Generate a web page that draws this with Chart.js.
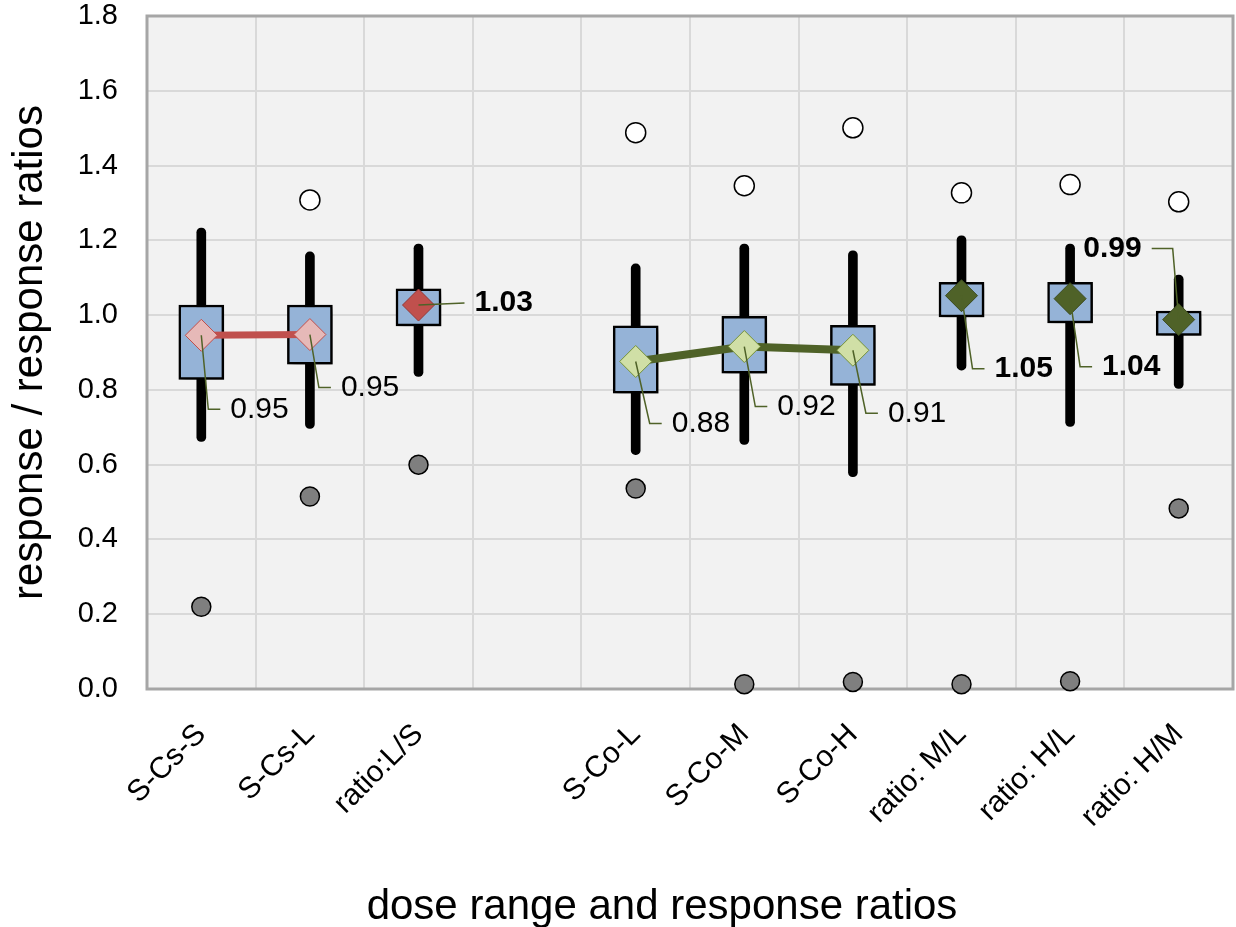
<!DOCTYPE html>
<html>
<head>
<meta charset="utf-8">
<title>dose range and response ratios</title>
<script src="https://cdn.jsdelivr.net/npm/chart.js@4.4.1/dist/chart.umd.min.js"></script>
<style>
    html, body { margin: 0; padding: 0; background: #ffffff; overflow: hidden; }
    #wrap { position: relative; width: 1236px; height: 927px; }
</style>
</head>
<body>
<div id="wrap"><canvas id="boxChart"></canvas></div>
<script>
const categories = ["S-Cs-S", "S-Cs-L", "ratio:L/S", "", "S-Co-L", "S-Co-M", "S-Co-H", "ratio: M/L", "ratio: H/L", "ratio: H/M"];
const whiskerLow = [0.662, 0.697, 0.836, null, 0.627, 0.654, 0.568, 0.853, 0.702, 0.804];
const whiskerHigh = [1.233, 1.169, 1.190, null, 1.137, 1.190, 1.172, 1.212, 1.190, 1.107];
const boxLow = [0.828, 0.869, 0.971, null, 0.791, 0.845, 0.812, 0.995, 0.979, 0.946];
const boxHigh = [1.027, 1.027, 1.070, null, 0.971, 0.997, 0.973, 1.088, 1.088, 1.011];
const means = [0.946, 0.948, 1.027, null, 0.876, 0.916, 0.906, 1.052, 1.044, 0.988];
const outlierHigh = [null, 1.308, null, null, 1.488, 1.346, 1.501, 1.327, 1.349, 1.303];
const outlierLow = [0.220, 0.515, 0.600, null, 0.536, 0.013, 0.019, 0.013, 0.021, 0.483];
const yMin = 0, yMax = 1.8, yStep = 0.2;
const xTitle = "dose range and response ratios";
const yTitle = "response / response ratios";

// which means belong to which group (lines join the single responses, ratios stand alone)
const csResponses = [0, 1], csRatios = [2], coResponses = [4, 5, 6], coRatios = [7, 8, 9];
function pick(values, idx) { return values.map(function(v, i) { return idx.indexOf(i) >= 0 ? v : null; }); }
function pairs(lo, hi) { return lo.map(function(v, i) { return v === null ? null : [v, hi[i]]; }); }

// leader line + label placement for each mean (pixels from the diamond)
const labelPlace = [
    { bx: 7, by: 74, ex: 19, bold: false },
    { bx: 9, by: 53, ex: 21, bold: false },
    { bx: 46, by: -2, ex: 46, bold: true },
    null,
    { bx: 14, by: 62, ex: 26, bold: false },
    { bx: 11, by: 60, ex: 23, bold: false },
    { bx: 13, by: 63, ex: 25, bold: false },
    { bx: 11, by: 73, ex: 23, bold: true },
    { bx: 10, by: 68, ex: 22, bold: true },
    { bx: -6, by: -71, ex: -27, bold: true }
];

const FONT = "'Liberation Sans', Arial, Helvetica, sans-serif";

const plotFrame = {
    id: "plotFrame",
    beforeDraw(chart) {
        const a = chart.chartArea, ctx = chart.ctx;
        ctx.save();
        ctx.fillStyle = "#f2f2f2";
        ctx.fillRect(a.left, a.top, a.right - a.left, a.bottom - a.top);
        ctx.restore();
    },
    beforeDatasetsDraw(chart) {
        const a = chart.chartArea, ctx = chart.ctx;
        ctx.save();
        ctx.strokeStyle = "#a6a6a6";
        ctx.lineWidth = 3;
        ctx.strokeRect(a.left, a.top, a.right - a.left, a.bottom - a.top);
        ctx.restore();
    },
    afterDraw(chart) {
        // x title sits a bit left of the plot centre in the original
        const ctx = chart.ctx;
        ctx.save();
        ctx.fillStyle = "#000000";
        ctx.font = "42px " + FONT;
        ctx.textAlign = "center";
        ctx.textBaseline = "middle";
        ctx.fillText(xTitle, 662, 907);
        ctx.restore();
    }
};

const boxShadow = {
    id: "boxShadow",
    beforeDatasetDraw(chart, args) {
        if (chart.data.datasets[args.index].label !== "box") return;
        const ctx = chart.ctx;
        ctx.save();
        ctx.shadowColor = "rgba(0, 0, 0, 0.55)";
        ctx.shadowBlur = 7;
        ctx.shadowOffsetX = 4;
        ctx.shadowOffsetY = 4;
    },
    afterDatasetDraw(chart, args) {
        if (chart.data.datasets[args.index].label !== "box") return;
        chart.ctx.restore();
    }
};

const meanLabels = {
    id: "meanLabels",
    afterDatasetsDraw(chart) {
        const ctx = chart.ctx, xs = chart.scales.x, ys = chart.scales.y;
        ctx.save();
        means.forEach(function(v, i) {
            const p = labelPlace[i];
            if (v === null || !p) return;
            const x = xs.getPixelForValue(i), y = ys.getPixelForValue(v);
            ctx.strokeStyle = "#4f6228";
            ctx.lineWidth = 1.5;
            ctx.beginPath();
            ctx.moveTo(x, y);
            ctx.lineTo(x + p.bx, y + p.by);
            ctx.lineTo(x + p.ex, y + p.by);
            ctx.stroke();
            ctx.fillStyle = "#000000";
            ctx.font = (p.bold ? "bold " : "") + "30px " + FONT;
            ctx.textBaseline = "middle";
            if (p.ex < 0) {
                ctx.textAlign = "right";
                ctx.fillText(v.toFixed(2), x + p.ex - 10, y + p.by);
            } else {
                ctx.textAlign = "left";
                ctx.fillText(v.toFixed(2), x + p.ex + 10, y + p.by);
            }
        });
        ctx.restore();
    }
};

function noPadding(scale) {
    scale.paddingTop = 0; scale.paddingBottom = 0; scale.paddingLeft = 0; scale.paddingRight = 0;
}

window.addEventListener("DOMContentLoaded", function() {
    const ctx = document.getElementById("boxChart").getContext("2d");
    new Chart(ctx, {
        type: "bar",
        data: {
            labels: categories,
            datasets: [
                { label: "whisker", data: pairs(whiskerLow, whiskerHigh), backgroundColor: "#000000", barThickness: 9, borderRadius: 4.5, borderSkipped: false, grouped: false, order: 3 },
                { label: "box", data: pairs(boxLow, boxHigh), backgroundColor: "#95b3d7", borderColor: "#000000", borderWidth: 2.5, borderSkipped: false, barThickness: 45, grouped: false, order: 2 },
                { type: "line", label: "max", data: outlierHigh, showLine: false, pointRadius: 10, pointBackgroundColor: "#ffffff", pointBorderColor: "#000000", pointBorderWidth: 1.5, clip: false, order: 1 },
                { type: "line", label: "min", data: outlierLow, showLine: false, pointRadius: 9.5, pointBackgroundColor: "#7f7f7f", pointBorderColor: "#000000", pointBorderWidth: 1.5, clip: false, order: 1 },
                { type: "line", label: "Cs", data: pick(means, csResponses), borderColor: "#c0504d", borderWidth: 7, pointStyle: "rectRot", pointRadius: 16, pointBackgroundColor: "#e6b9b8", pointBorderColor: "#c0504d", pointBorderWidth: 1, order: 0 },
                { type: "line", label: "Cs ratio", data: pick(means, csRatios), showLine: false, pointStyle: "rectRot", pointRadius: 16, pointBackgroundColor: "#c0504d", pointBorderColor: "#953735", pointBorderWidth: 1, order: 0 },
                { type: "line", label: "Co", data: pick(means, coResponses), borderColor: "#4f6228", borderWidth: 8, pointStyle: "rectRot", pointRadius: 16, pointBackgroundColor: "#d0dfa6", pointBorderColor: "#76923c", pointBorderWidth: 1, order: 0 },
                { type: "line", label: "Co ratio", data: pick(means, coRatios), showLine: false, pointStyle: "rectRot", pointRadius: 16, pointBackgroundColor: "#4f6228", pointBorderColor: "#3b4a1e", pointBorderWidth: 1, order: 0 }
            ]
        },
        options: {
            responsive: true,
            maintainAspectRatio: false,
            animation: false,
            events: [],
            layout: { autoPadding: false, padding: { top: 16, right: 3, left: 0, bottom: 0 } },
            plugins: { legend: { display: false }, tooltip: { enabled: false } },
            scales: {
                x: {
                    type: "category",
                    offset: true,
                    grid: { offset: true, color: "#d9d9d9", lineWidth: 2, drawTicks: false },
                    border: { display: false },
                    ticks: { autoSkip: false, minRotation: 45, maxRotation: 45, padding: 28, color: "#000000", font: { family: FONT, size: 30 } },
                    afterFit: function(scale) { scale.height = 238; noPadding(scale); }
                },
                y: {
                    min: yMin,
                    max: yMax,
                    grid: { color: "#d9d9d9", lineWidth: 2, drawTicks: false },
                    border: { display: false },
                    ticks: { stepSize: yStep, padding: 29, color: "#000000", font: { family: FONT, size: 29 }, callback: function(v) { return Number(v).toFixed(1); } },
                    title: { display: true, text: yTitle, color: "#000000", font: { family: FONT, size: 42 }, padding: { top: 5, bottom: 0 } },
                    afterFit: function(scale) { scale.width = 147; noPadding(scale); }
                }
            }
        },
        plugins: [plotFrame, boxShadow, meanLabels]
    });
});
</script>
</body>
</html>
